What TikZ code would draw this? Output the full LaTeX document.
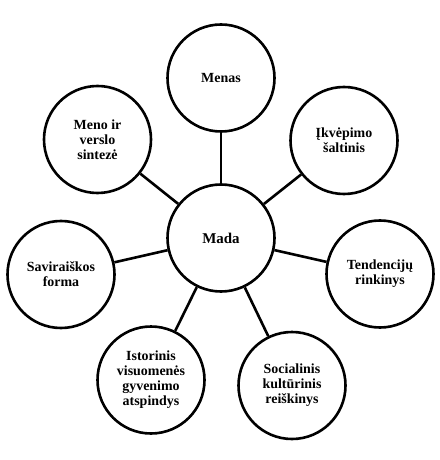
\documentclass[tikz,border=0pt]{standalone}
\usepackage{fontspec}
\setmainfont{Liberation Serif}
\begin{document}
\begin{tikzpicture}[x=1bp,y=-1bp,
  bub/.style={circle,draw=black,line width=2.6bp,minimum size=107bp,inner sep=0pt,align=center,
    font=\bfseries\fontsize{14}{15}\selectfont},
  link/.style={line width=2.6bp}]
\useasboundingbox (0,0) rectangle (440,460);
\node[bub,font=\bfseries\fontsize{15}{16}\selectfont] (mada) at (221,238) {Mada};
\node[bub] (menas) at (221,78) {Menas};
\node[bub] (meno) at (97.5,139.5) {Meno ir\\verslo\\sintezė};
\node[bub] (ikv) at (344,140.5) {Įkvėpimo\\šaltinis};
\node[bub] (sav) at (61,274.5) {Saviraiškos\\forma};
\node[bub] (ten) at (380,274) {Tendencijų\\rinkinys};
\node[bub] (ist) at (151,380) {Istorinis\\visuomenės\\gyvenimo\\atspindys};
\node[bub] (soc) at (292,385.5) {Socialinis\\kultūrinis\\reiškinys};
\foreach \n in {menas,meno,ikv,sav,ten,ist,soc}
  \draw[link] (mada) -- (\n);
\end{tikzpicture}
\end{document}
